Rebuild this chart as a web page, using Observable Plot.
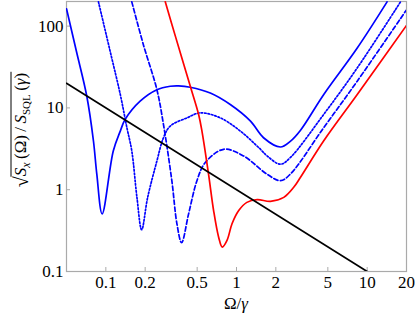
<!DOCTYPE html>
<html><head><meta charset="utf-8">
<script src="https://cdn.jsdelivr.net/npm/d3@7"></script>
<script src="https://cdn.jsdelivr.net/npm/@observablehq/plot@0.6"></script>
<style>body{margin:0;background:#fff}</style>
</head><body><div id="chart"></div>
<script>
const xTicks = [0.1, 0.2, 0.5, 1, 2, 5, 10, 20];
const xTickLabels = ["0.1", "0.2", "0.5", "1", "2", "5", "10", "20"];
const yTicks = [0.1, 1, 10, 100];
const yTickLabels = ["0.1", "1", "10", "100"];

const solidX = [0.05, 0.0596, 0.0715, 0.0804, 0.0853, 0.0937, 0.114, 0.129, 0.1405, 0.183, 0.246, 0.311, 0.36, 0.443, 0.63, 0.896, 1.28, 1.61, 2.17, 2.58, 3.08, 4.64, 8.37, 14.2];
const solidY = [163, 48.9, 13.9, 3.94, 1.55, 0.507, 2.98, 5.21, 7.23, 12.1, 16.7, 18.4, 18.6, 17.9, 15.2, 11.0, 6.89, 4.32, 3.33, 3.9, 5.3, 14.5, 53.6, 198];

const dottedX = [0.0878, 0.108, 0.129, 0.145, 0.158, 0.173, 0.188, 0.209, 0.246, 0.276, 0.311, 0.418, 0.528, 0.751, 1.07, 1.5, 1.71, 2.17, 2.58, 4.64, 8.37, 18];
const dottedY = [198, 48.9, 14.6, 5.71, 2.98, 0.806, 0.324, 0.806, 2.25, 4.32, 6.0, 7.56, 8.7, 7.56, 5.21, 3.2, 2.6, 2.05, 2.47, 8.3, 30.6, 198];

const dashedX = [0.158, 0.194, 0.246, 0.276, 0.320, 0.350, 0.380, 0.430, 0.498, 0.577, 0.797, 1.13, 1.71, 2.17, 2.58, 4.64, 8.37, 20];
const dashedY = [198, 58.9, 16.7, 6.29, 1.29, 0.383, 0.225, 0.507, 1.29, 2.15, 3.12, 2.59, 1.55, 1.29, 1.55, 5.71, 21.1, 158];

const redX = [0.285, 0.340, 0.443, 0.513, 0.544, 0.611, 0.668, 0.730, 0.778, 0.846, 0.924, 1.04, 1.20, 1.44, 1.82, 2.30, 2.74, 3.08, 4.64, 8.37, 20];
const redY = [198, 76, 18.4, 8.3, 5.21, 1.55, 0.556, 0.263, 0.199, 0.240, 0.383, 0.556, 0.70, 0.756, 0.721, 0.806, 1.07, 1.41, 3.94, 14.5, 102];

const blackX = [0.05, 10];
const blackY = [20, 0.1];

const pts = (xs, ys) => xs.map((x, i) => ({x, y: ys[i]}));
const xTickData = xTicks.map((v, i) => ({v, label: xTickLabels[i]}));
const yTickData = yTicks.map((v, i) => ({v, label: yTickLabels[i]}));

const lineOpts = (stroke, dash) => ({x: "x", y: "y", stroke, strokeWidth: 1.7, curve: "catmull-rom", strokeDasharray: dash, clip: true});

const chart = Plot.plot({
  width: 415, height: 315,
  marginLeft: 66, marginRight: 9, marginTop: 1, marginBottom: 44,
  style: {fontFamily: "Liberation Serif", fontSize: "17px", background: "#fff", color: "#000"},
  x: {type: "log", domain: [0.05, 20], axis: null},
  y: {type: "log", domain: [0.1, 200], axis: null},
  marks: [
    Plot.frame({stroke: "#aaa", strokeWidth: 1.2}),
    Plot.tickX(xTickData, {x: "v", stroke: "#aaa", insetTop: 266}),
    Plot.tickY(yTickData, {y: "v", stroke: "#aaa", insetRight: 336}),
    Plot.text(xTickData, {x: "v", text: "label", frameAnchor: "bottom", lineAnchor: "top", dy: 4, fill: "#000", fontSize: 17}),
    Plot.text(yTickData, {y: "v", text: "label", frameAnchor: "left", textAnchor: "end", dx: -3, fill: "#000", fontSize: 17}),
    Plot.line(pts(solidX, solidY), lineOpts("#0000ff", null)),
    Plot.line(pts(dottedX, dottedY), lineOpts("#0000ff", "1.6,1.9")),
    Plot.line(pts(dashedX, dashedY), lineOpts("#0000ff", "4.5,2.5")),
    Plot.line(pts(redX, redY), lineOpts("#ff0000", null)),
    Plot.line(pts(blackX, blackY), {x: "x", y: "y", stroke: "#000", strokeWidth: 1.7, clip: true})
  ]
});
document.getElementById("chart").appendChild(chart);

const svg = d3.select(chart);
// x axis label
const xl = svg.append("text").attr("x", 236).attr("y", 309).attr("text-anchor", "middle")
  .style("font-family", "Liberation Serif").style("font-size", "17px").attr("fill", "#000");
xl.append("tspan").text("Ω/");
xl.append("tspan").text("γ").style("font-style", "italic");

// y axis label
const g = svg.append("g").attr("transform", "translate(26,130) rotate(-90)")
  .style("font-family", "Liberation Serif").style("font-size", "17px").attr("fill", "#000");
const t = g.append("text").attr("text-anchor", "middle");
t.append("tspan").text("√").style("font-size", "20px").attr("dy", 2);
t.append("tspan").text("S").style("font-style", "italic").attr("dy", -2);
t.append("tspan").text("x").style("font-style", "italic").style("font-size", "12px").attr("dy", 4);
t.append("tspan").text("\u2009(Ω)\u2009/\u2009").attr("dy", -4);
t.append("tspan").text("S").style("font-style", "italic");
t.append("tspan").text("SQL").style("font-size", "11px").attr("dy", 4);
t.append("tspan").text("\u2009(").attr("dy", -4);
t.append("tspan").text("γ").style("font-style", "italic");
t.append("tspan").text(")");
const tn = t.node();
const n = tn.getNumberOfChars();
const s0 = tn.getEndPositionOfChar(0).x;
const s1 = tn.getEndPositionOfChar(n - 1).x;
g.append("line").attr("x1", s0 - 0.5).attr("x2", s1 + 1).attr("y1", -15).attr("y2", -15)
  .attr("stroke", "#000").attr("stroke-width", 1);
</script>
</body></html>
